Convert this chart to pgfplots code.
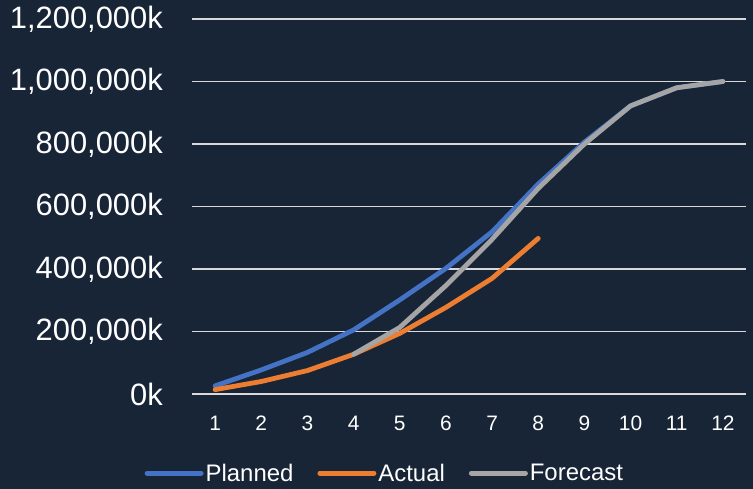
\documentclass[border=0pt]{standalone}
\usepackage{fontspec}
\setmainfont{Liberation Sans}
\usepackage{pgfplots}
\pgfplotsset{compat=1.18}
\definecolor{bg}{HTML}{182537}
\definecolor{grid}{HTML}{D9D9D9}
\definecolor{cPlan}{HTML}{4472C4}
\definecolor{cAct}{HTML}{ED7D31}
\definecolor{cFor}{HTML}{A5A5A5}
\begin{document}
\begin{tikzpicture}
\fill[bg] (-192bp,-95bp) rectangle (561bp,394bp);
\useasboundingbox (-192bp,-95bp) rectangle (561bp,394bp);
\begin{axis}[
  at={(0,0)}, anchor=south west,
  scale only axis, width=554bp, height=375bp,
  xmin=0.5, xmax=12.5, ymin=0, ymax=1200000,
  scaled y ticks=false,
  axis line style={draw=none},
  axis x line*=bottom,
  major tick length=0pt,
  xtick={1,...,12},
  xticklabels={1,2,3,4,5,6,7,8,9,10,11,12},
  ytick={0,200000,400000,600000,800000,1000000,1200000},
  yticklabels={0k,{200,000k},{400,000k},{600,000k},{800,000k},{1,000,000k},{1,200,000k}},
  ymajorgrids,
  grid style={draw=grid, line width=1.4bp},
  yticklabel style={font=\fontsize{31}{33}\selectfont, text=white, anchor=east, inner sep=0pt, xshift=-29bp},
  xticklabel style={font=\fontsize{21}{23}\selectfont, text=white, anchor=north, inner sep=0pt, yshift=-22bp},
  legend columns=-1,
  legend style={at={(0.348,-0.211)}, anchor=center, draw=none, fill=none,
    font=\fontsize{24}{26}\selectfont, text=white,
    nodes={inner sep=2bp},
    /tikz/every even column/.append style={column sep=22bp}},
  legend image code/.code={\draw[#1, line width=5bp, line cap=round] (0,0) -- (54bp,0);},
  every axis plot/.append style={line width=4.8bp, line join=round, line cap=round, mark=none},
]
\addplot[cPlan] coordinates {(1,26000) (2,77000) (3,133000) (4,205000) (5,301000) (6,402000) (7,519000) (8,672000) (9,806000) (10,922000) (11,980000) (12,1000000)};
\addlegendentry{Planned}
\addplot[cAct] coordinates {(1,14000) (2,40000) (3,75000) (4,127000) (5,194000) (6,277000) (7,370000) (8,498000)};
\addlegendentry{Actual}
\addplot[cFor] coordinates {(4,127000) (5,213000) (6,347000) (7,495000) (8,658000) (9,800000) (10,922000) (11,980000) (12,1000000)};
\addlegendentry{Forecast}
\end{axis}
\end{tikzpicture}
\end{document}
